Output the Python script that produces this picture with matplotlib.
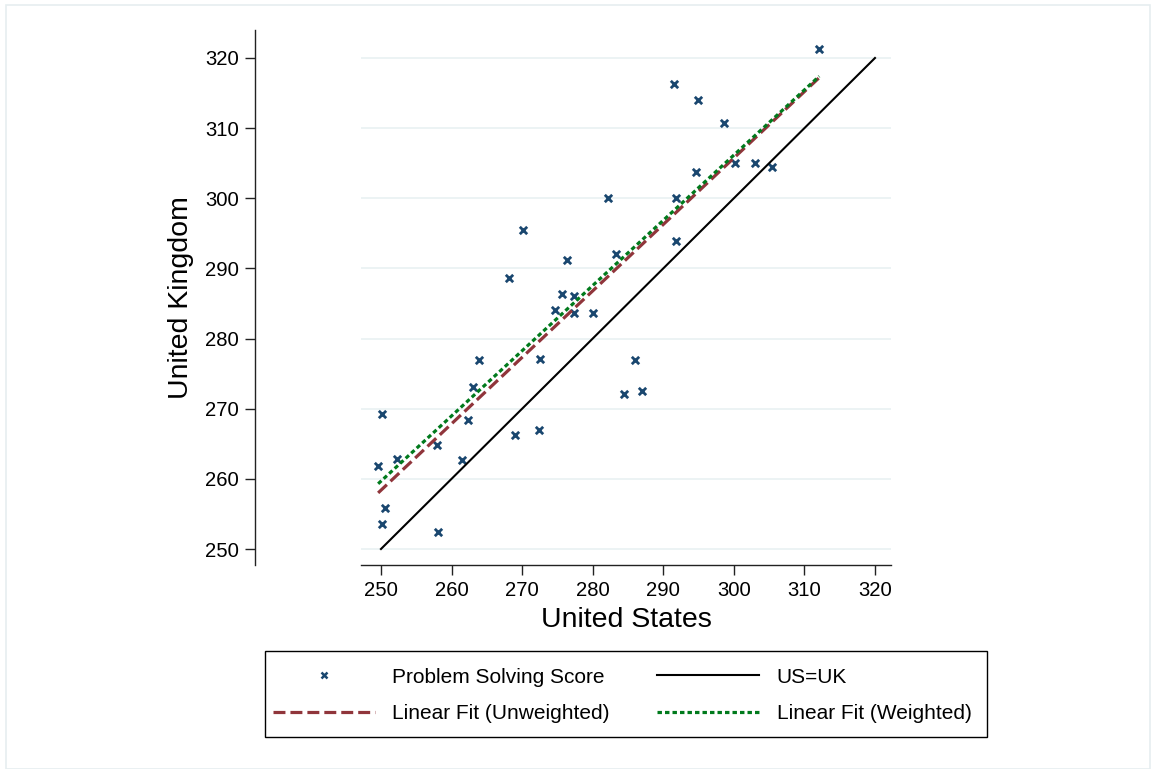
import numpy as np
import matplotlib
matplotlib.use("Agg")
import matplotlib.pyplot as plt
from matplotlib.lines import Line2D
from matplotlib.patches import Rectangle

plt.rcParams['font.family'] = ['Liberation Sans', 'DejaVu Sans']
plt.rcParams['lines.scale_dashes'] = False

# problem solving scores
us = [249.6, 250.2, 250.5, 250.2, 252.3, 257.9, 258.1, 261.5, 262.3, 263.0,
      263.9, 268.1, 269.0, 270.1, 272.4, 272.6, 274.6, 275.6, 276.4, 277.3,
      277.4, 280.0, 282.1, 283.3, 284.4, 286.0, 287.0, 291.5, 291.8, 291.8,
      294.7, 294.9, 298.6, 300.2, 303.0, 305.4, 312.1]
uk = [261.9, 269.3, 255.8, 253.5, 262.8, 264.8, 252.4, 262.7, 268.4, 273.1,
      276.9, 288.7, 266.2, 295.5, 266.9, 277.1, 284.1, 286.4, 291.2, 286.0,
      283.6, 283.6, 300.1, 292.1, 272.1, 276.9, 272.5, 316.3, 293.9, 300.1,
      303.8, 314.0, 310.7, 305.0, 305.0, 304.4, 321.3]

# fitted lines (end points)
fit_x = [249.6, 312.1]
fit_unw = [258.0, 317.2]
fit_w = [259.3, 317.4]
diag = [250, 320]

ticks = [250, 260, 270, 280, 290, 300, 310, 320]

navy = '#1a476f'
maroon = '#90353b'
green = '#007a1c'
gridc = '#eaf2f3'

W, H = 1151, 769
fig = plt.figure(figsize=(W / 100, H / 100), dpi=100)
fig.patch.set_facecolor('white')
fig.patches.append(Rectangle((6 / W, 0), 1144 / W, 1 - 5 / H, transform=fig.transFigure,
                             fill=False, edgecolor='#e6eef0', linewidth=1.2))

ax = fig.add_axes([361 / W, 1 - 565 / H, 530 / W, 535 / H])
ax.set_xlim(247.17, 322.27)
ax.set_ylim(247.72, 323.99)

ax.scatter(us, uk, marker='x', s=28, color=navy, linewidths=2.0, zorder=3,
           label='Problem Solving Score')
ax.plot(diag, diag, color='black', lw=1.5, zorder=4, label='US=UK')
ax.plot(fit_x, fit_unw, color=maroon, lw=2.3, ls=(0, (8.6, 3.6)), zorder=5,
        label='Linear Fit (Unweighted)')
ax.plot(fit_x, fit_w, color=green, lw=2.3, ls=(0, (3.2, 2.2)), zorder=6,
        label='Linear Fit (Weighted)')

ax.set_xticks(ticks)
ax.set_yticks(ticks)
ax.yaxis.grid(True, color=gridc, lw=1.3)
ax.set_axisbelow(True)
ax.tick_params(axis='both', labelsize=14.6, length=7.2, width=1.0,
               color='#222222', pad=4.5)
for s in ['top', 'right']:
    ax.spines[s].set_visible(False)
for s in ['left', 'bottom']:
    ax.spines[s].set_color('#222222')
    ax.spines[s].set_linewidth(1.0)
ax.spines['left'].set_position(('outward', 76.3))

ax.set_xlabel('United States', fontsize=20.5, labelpad=5)
ax.set_ylabel('United Kingdom', fontsize=20.5, labelpad=7.5)

handles = [
    Line2D([], [], marker='x', ls='none', color=navy, markersize=5, mew=1.8),
    Line2D([], [], color=maroon, lw=2.3, ls=(0, (8.6, 3.6))),
    Line2D([], [], color='black', lw=1.5),
    Line2D([], [], color=green, lw=2.3, ls=(0, (3.2, 2.2))),
]
labels = ['Problem Solving Score', 'Linear Fit (Unweighted)', 'US=UK',
          'Linear Fit (Weighted)']
leg = fig.legend(handles, labels, ncol=2, loc='center',
                 bbox_to_anchor=((275 + 969) / 2 / W, 1 - 695.5 / H),
                 fontsize=15, frameon=False, handlelength=4.9,
                 handletextpad=0.85, columnspacing=2.25, labelspacing=0.85,
                 borderpad=0, borderaxespad=0)
# legend box, drawn on its own
fig.patches.append(Rectangle((265 / W, 1 - 737 / H), 722 / W, 86 / H,
                             transform=fig.transFigure, fill=False,
                             edgecolor='black', linewidth=1.0))

fig.savefig('out.png', dpi=100)
